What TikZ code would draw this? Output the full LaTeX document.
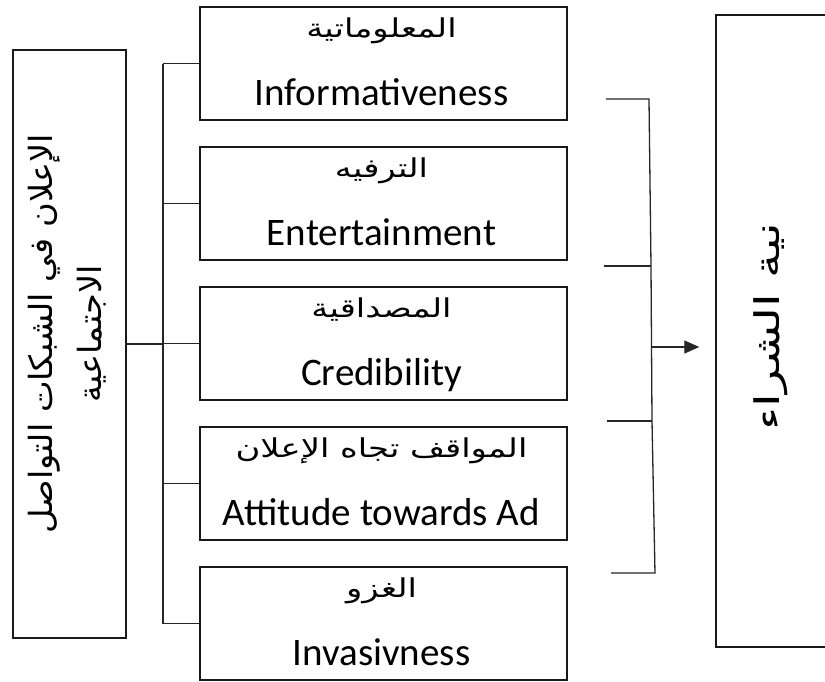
\documentclass[tikz,border=0pt]{standalone}
\usepackage{fontspec}
\setmainfont{Carlito}
\newfontfamily\arabicfont[Script=Arabic]{DejaVu Sans}
\TeXXeTstate=1
\usetikzlibrary{arrows.meta,calc}

% Arabic line, widened along the writing direction
\newcommand{\arline}[2][1.3]{\scalebox{#1}[1]{\beginR #2\endR}}

\begin{document}
\begin{tikzpicture}[x=1pt,y=-1pt,
  frame/.style={draw=black!90, line width=1.4pt, inner sep=0pt},
  catbox/.style={frame, minimum width=367pt, minimum height=113pt},
  en/.style={font=\fontsize{39}{42}\selectfont, anchor=base, inner sep=0pt},
  ar/.style={font=\arabicfont\fontsize{26}{30}\selectfont, anchor=base, inner sep=0pt},
  wire/.style={draw=black!85, line width=1.3pt},
]
\useasboundingbox (0,0) rectangle (825,681);

% independent variable: social network advertising
\node[frame, minimum width=113pt, minimum height=588pt] (ad) at (69.5,344) {};
\node[font=\arabicfont\fontsize{32}{49}\selectfont, rotate=90, align=center] (adtxt) at (67,334)
  {\arline[1.05]{الإعلان في الشبكات التواصل}\\\arline[1.05]{الاجتماعية}};

% the five dimensions
\node[catbox] (inf)  at (383.5,63.5)  {};
\node[catbox] (ent)  at (383.5,203.5) {};
\node[catbox] (cred) at (383.5,343.5) {};
\node[catbox] (att)  at (383.5,483.5) {};
\node[catbox] (inv)  at (383.5,623.5) {};

\node[ar] (infar)  at ($(inf.north)+(-2,31)$)  {\arline{المعلوماتية}};
\node[en] (infen)  at ($(inf.south)+(-2,-15)$) {Informativeness};
\node[ar] (entar)  at ($(ent.north)+(-2,31)$)  {\arline{الترفيه}};
\node[en] (enten)  at ($(ent.south)+(-2,-15)$) {Entertainment};
\node[ar] (credar) at ($(cred.north)+(-2,31)$) {\arline{المصداقية}};
\node[en] (creden) at ($(cred.south)+(-2,-15)$) {Credibility};
\node[ar] (attar)  at ($(att.north)+(-2,31)$)  {\arline{المواقف تجاه الإعلان}};
\node[en] (atten)  at ($(att.south)+(-2,-15)$) {Attitude towards Ad};
\node[ar] (invar)  at ($(inv.north)+(-2,31)$)  {\arline{الغزو}};
\node[en] (inven)  at ($(inv.south)+(-2,-15)$) {Invasivness};

% dependent variable: purchase intention
\node[frame, minimum width=112pt, minimum height=632pt] (pi) at (772,331) {};
\node[font=\arabicfont\fontsize{34}{40}\selectfont, rotate=90] (pitxt) at (771,327)
  {\arline[1.45]{نية الشراء}};

% left tree connector
\coordinate (busT) at (163,63.5);
\coordinate (busB) at (163,623.5);
\draw[wire] (ad.east) -- (ad.east -| busT);
\draw[wire] (busT) -- (busB);
\foreach \b in {inf,ent,cred,att,inv}
  \draw[wire] (busT |- \b.west) -- (\b.west);

% right bracket and arrow
\coordinate (brA) at (649,99);
\coordinate (brB) at (651,266);
\coordinate (brC) at (652,421);
\coordinate (brD) at (655,573);
\coordinate (tkA) at (606,99);
\coordinate (tkB) at (604,266);
\coordinate (tkC) at (607,421);
\coordinate (tkD) at (611,573);
\coordinate (brM) at (651.5,347);
\draw[wire] (tkA) -- (brA) -- (brB) -- (brC) -- (brD) -- (tkD);
\draw[wire] (tkB) -- (brB);
\draw[wire] (tkC) -- (brC);
\draw[wire, -{Triangle[length=15pt,width=13pt]}, shorten >=16pt] (brM) -- (pi.west |- brM);
\end{tikzpicture}
\end{document}
